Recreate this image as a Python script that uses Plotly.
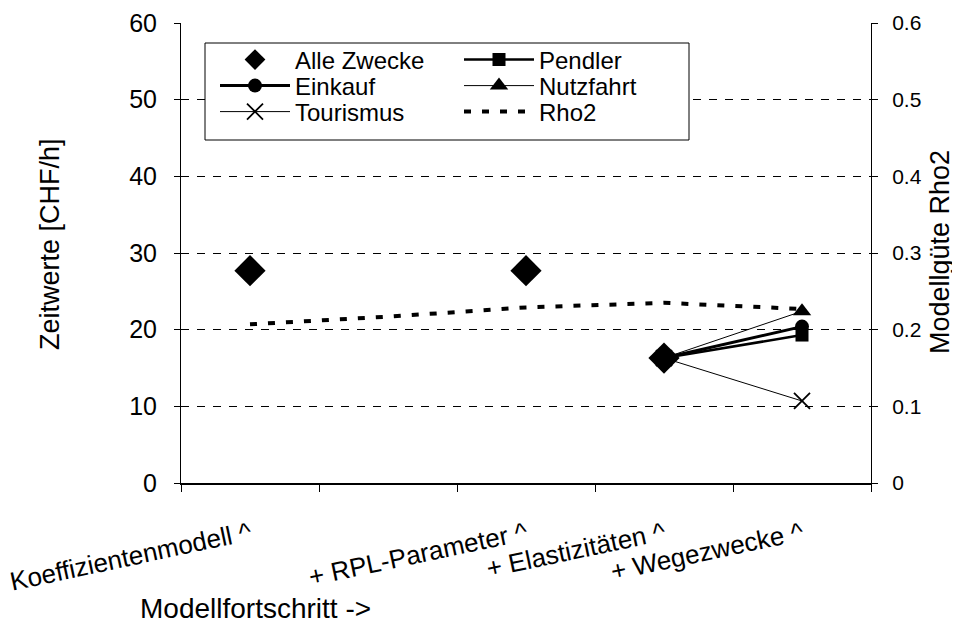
import plotly.graph_objects as go

categories = ["Koeffizientenmodell ^", "", "+ RPL-Parameter ^", "+ Elastizitäten ^", "+ Wegezwecke ^"]
x_pos = [1, 2, 3, 4, 5]

alle_zwecke = [27.7, None, 27.7, 16.3, None]
pendler = [None, None, None, 16.3, 19.3]
einkauf = [None, None, None, 16.3, 20.4]
nutzfahrt = [None, None, None, 16.3, 22.4]
tourismus = [None, None, None, 16.3, 10.7]
rho2 = [0.207, 0.217, 0.229, 0.235, 0.227]

FONT = "Liberation Sans, Arial, sans-serif"

# the page body keeps its default 8px margin, so the figure is drawn 8px in
OFF = 8
W, H = 960 - OFF, 632 - OFF

# plot area in screenshot pixels
L, R, T, B = 181, 871, 23, 483


def px_x(p):
    return (p - L) / (R - L)


def px_y(p):
    return (B - p) / (B - T)


# one legend per entry so the rows can sit as tight as in the original
legend_slots = {
    "legend": (215, 60),   # Alle Zwecke
    "legend2": (459, 60),  # Pendler
    "legend3": (215, 86),  # Einkauf
    "legend4": (459, 86),  # Nutzfahrt
    "legend5": (215, 112),  # Tourismus
    "legend6": (459, 112),  # Rho2
}

fig = go.Figure()
fig.add_scatter(x=x_pos, y=pendler, mode="lines+markers", name="Pendler", legend="legend2",
                line=dict(color="black", width=2.5),
                marker=dict(symbol="square", size=13, color="black"))
fig.add_scatter(x=x_pos, y=einkauf, mode="lines+markers", name="Einkauf", legend="legend3",
                line=dict(color="black", width=3),
                marker=dict(symbol="circle", size=14, color="black"))
fig.add_scatter(x=x_pos, y=nutzfahrt, mode="lines+markers", name="Nutzfahrt", legend="legend4",
                line=dict(color="black", width=1),
                marker=dict(symbol="triangle-up", size=16, color="black"))
fig.add_scatter(x=x_pos, y=tourismus, mode="lines+markers", name="Tourismus", legend="legend5",
                line=dict(color="black", width=1),
                marker=dict(symbol="x-thin", size=16, color="black", line=dict(width=1.8, color="black")))
fig.add_scatter(x=x_pos, y=rho2, mode="lines", name="Rho2", yaxis="y2", legend="legend6",
                line=dict(color="black", width=4, dash="7px,11px"))
fig.add_scatter(x=x_pos, y=alle_zwecke, mode="markers", name="Alle Zwecke", legend="legend",
                marker=dict(symbol="diamond", size=24, color="black"))

tick_vals = [x for x, c in zip(x_pos, categories) if c]
tick_text = [c for c in categories if c]

legends = {}
for key, (lx, ly) in legend_slots.items():
    legends[key] = dict(x=px_x(lx), y=px_y(ly), xanchor="left", yanchor="middle",
                        bgcolor="rgba(0,0,0,0)", borderwidth=0, itemwidth=70,
                        font=dict(size=24, family=FONT, color="black"))

fig.update_layout(
    width=W, height=H,
    margin=dict(l=L - OFF, r=960 - R, t=T - OFF, b=632 - B),
    paper_bgcolor="white", plot_bgcolor="white",
    font=dict(family=FONT, size=24, color="black"),
    showlegend=True,
    **legends,
    xaxis=dict(range=[0.5, 5.5], tickvals=tick_vals, ticktext=tick_text, tickangle=-12,
               ticks="", showgrid=False, zeroline=False, showline=True,
               linecolor="black", linewidth=1.5, automargin=False, ticklabeloverflow="allow",
               minor=dict(tick0=0.5, dtick=1, ticks="outside", ticklen=7, tickcolor="black", showgrid=False),
               ticklabelstandoff=24, tickfont=dict(size=26)),
    yaxis=dict(range=[0, 60], dtick=10, ticks="outside", ticklen=6, tickcolor="black",
               showline=True, linecolor="black", linewidth=1, automargin=False,
               showgrid=True, gridcolor="black", gridwidth=1, griddash="8px,8px",
               zeroline=False, tickfont=dict(size=25), ticklabelstandoff=12),
    yaxis2=dict(range=[0, 0.6], dtick=0.1, overlaying="y", side="right",
                ticks="outside", ticklen=6, tickcolor="black", automargin=False,
                showline=True, linecolor="black", linewidth=1,
                showgrid=False, zeroline=False, tickfont=dict(size=21), ticklabelstandoff=10),
    shapes=[
        dict(type="rect", xref="paper", yref="paper", layer="above",
             x0=px_x(205), x1=px_x(689), y0=px_y(140), y1=px_y(43),
             line=dict(color="black", width=1), fillcolor="white"),
    ],
    annotations=[
        dict(text="Zeitwerte [CHF/h]", xref="paper", yref="paper", x=px_x(50), y=px_y(244),
             xanchor="center", yanchor="middle", textangle=-90, showarrow=False,
             font=dict(size=27)),
        dict(text="Modellgüte Rho2", xref="paper", yref="paper", x=px_x(940), y=px_y(252),
             xanchor="center", yanchor="middle", textangle=-90, showarrow=False,
             font=dict(size=27)),
        dict(text="Modellfortschritt ->", xref="paper", yref="paper", x=px_x(138), y=px_y(608),
             xanchor="left", yanchor="middle", showarrow=False, font=dict(size=28)),
    ],
)

fig.write_html("out.html")
